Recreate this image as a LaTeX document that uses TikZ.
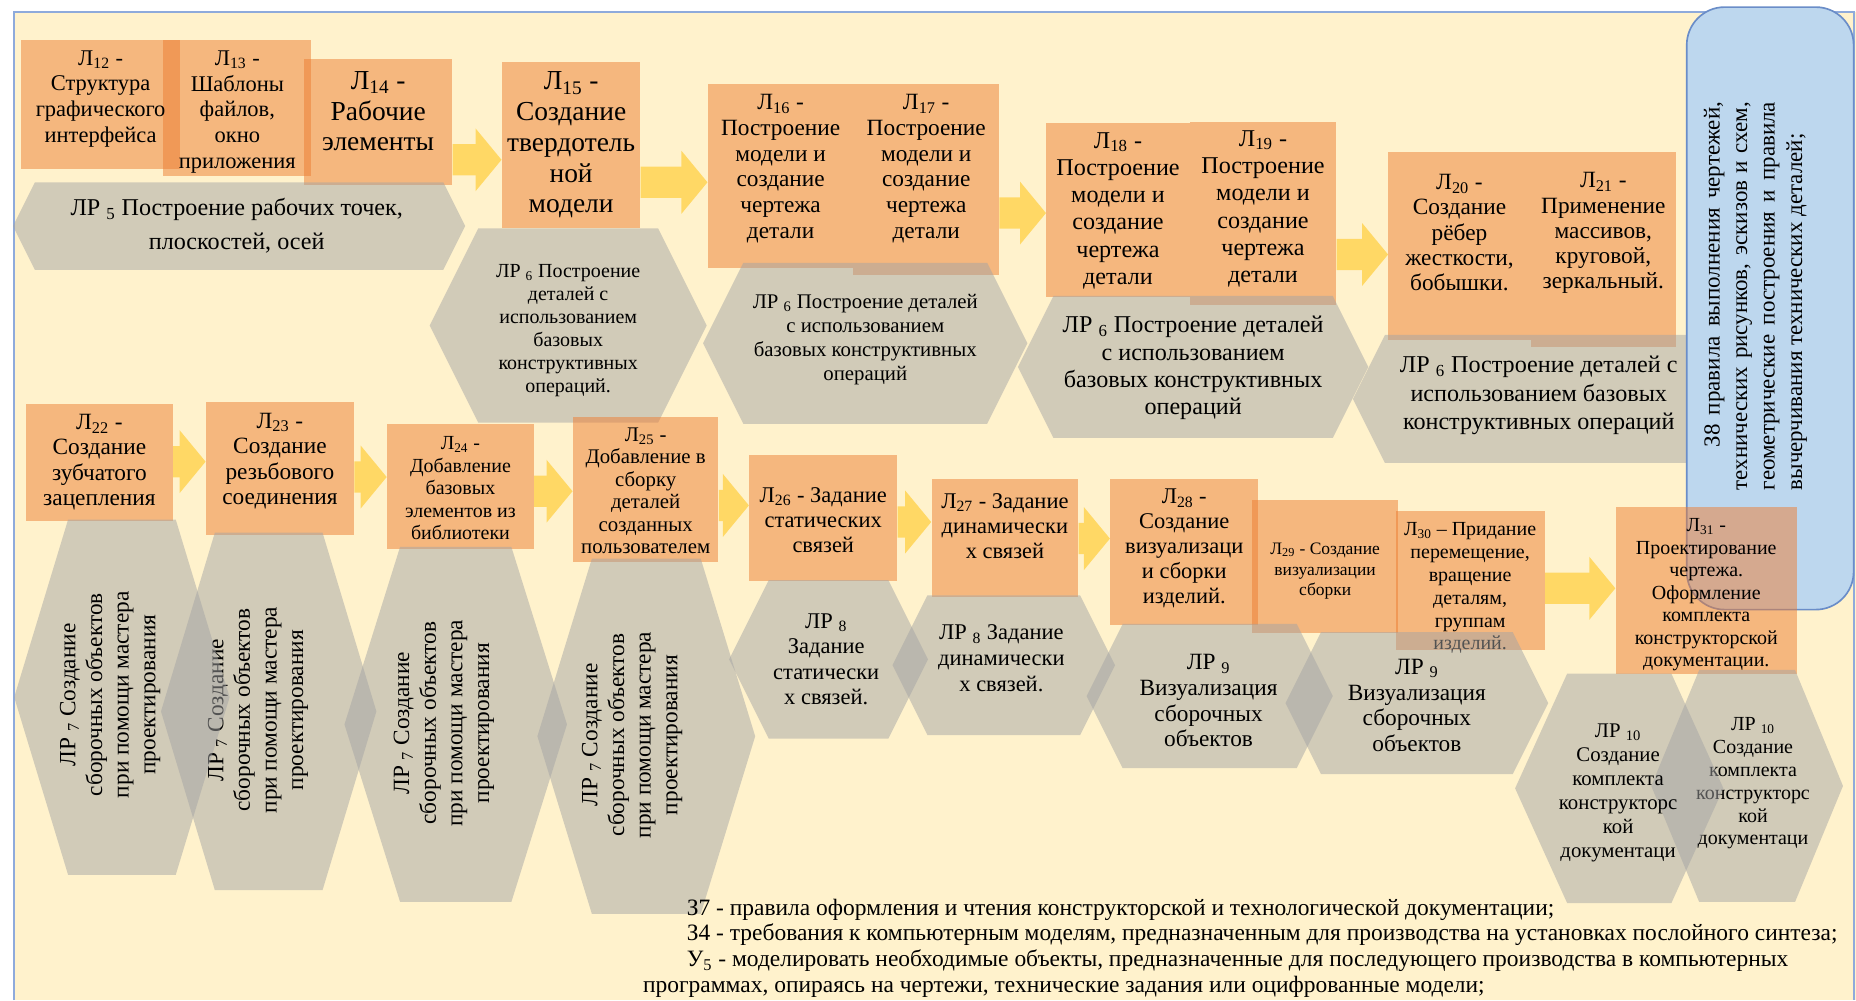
\documentclass[tikz,border=0pt]{standalone}
\usepackage{fontspec}
\setmainfont{Liberation Serif}
\setsansfont{Liberation Sans}
\usetikzlibrary{arrows.meta,fit,calc}

\definecolor{cream}{HTML}{FFF2CC}
\definecolor{orng}{HTML}{ED7D31}
\definecolor{hexgray}{HTML}{A5A5A5}
\definecolor{yel}{HTML}{FFC000}
\definecolor{paleblue}{HTML}{BDD7EE}
\definecolor{edgeblue}{HTML}{6A8DC8}
\definecolor{frameblue}{HTML}{8EAADB}

\newcommand\fsz[2]{\fontsize{#1}{#2}\selectfont}
\newcommand\lec[1]{Л\textsubscript{#1}}
\newcommand\lab[1]{ЛР \textsubscript{#1}}
% hexagon: centre x, centre y, half width, half height
\newcommand\hexa[4]{%
  \pgfmathsetmacro\hexin{0.5*min(#3,#4)}%
  \fill[hexfill] (#1-#3,#2) -- (#1-#3+\hexin,#2-#4) -- (#1+#3-\hexin,#2-#4)
    -- (#1+#3,#2) -- (#1+#3-\hexin,#2+#4) -- (#1-#3+\hexin,#2+#4) -- cycle;}

\begin{document}
\begin{tikzpicture}[x=0.25mm, y=-0.25mm,
  lecbox/.style={rectangle, fill=orng, fill opacity=0.5, inner sep=0pt},
  boxtext/.style={align=center, inner sep=0pt},
  hexfill/.style={fill=hexgray, fill opacity=0.5},
  hexlabel/.style={align=center, inner sep=0pt},
  vlabel/.style={hexlabel, rotate=90, font={\fsz{14}{16}}},
  bluebox/.style={rectangle, rounded corners=8mm, fill=paleblue, draw=edgeblue, line width=0.35mm, inner sep=0pt},
  flow/.style={draw=yel, line width=6.6mm, -{Triangle[length=5.5mm, width=13mm]}}]
  \useasboundingbox (0,0) rectangle (1568,845);
  \fill[cream] (12,10) rectangle (1568,845);
  \draw[frameblue, line width=0.4mm] (12,845) -- (12,10) -- (1566,10) -- (1566,845);

  % first row
  \node[lecbox, fit={(18,34) (152,143)}] (l12) {};
  \node[lecbox, fit={(138,34) (263,149)}] (l13) {};
  \node[lecbox, fit={(257,50) (382,156)}] (l14) {};
  \node[lecbox, fit={(424,52) (541,193)}] (l15) {};
  \node[lecbox, fit={(598,71) (721,226)}] (l16) {};
  \node[lecbox, fit={(721,71) (844,232)}] (l17) {};
  \node[lecbox, fit={(884,104) (1005,251)}] (l18) {};
  \node[lecbox, fit={(1005,103) (1129,258)}] (l19) {};
  \node[lecbox, fit={(1173,128) (1293,287)}] (l20) {};
  \node[lecbox, fit={(1293,128) (1416,293)}] (l21) {};
  \node[boxtext, font={\fsz{13.5}{15.5}}] (l12t) at ($(l12)+(0,-5)$) {\lec{12} -\\Структура\\графического\\интерфейса};
  \node[boxtext, font={\fsz{13.5}{15.5}}] (l13t) at ($(l13)+(0,3)$) {\lec{13} -\\Шаблоны\\файлов,\\окно\\приложения};
  \node[boxtext, font={\fsz{16.5}{18.5}}] (l14t) at ($(l14)+(0,-9)$) {\lec{14} -\\Рабочие\\элементы};
  \node[boxtext, font={\fsz{16.5}{18.5}}] (l15t) at ($(l15)+(0,0)$) {\lec{15} -\\Создание\\твердотель\\ной\\модели};
  \node[boxtext, font={\fsz{14}{15.4}}] (l16t) at ($(l16)+(0,-6)$) {\lec{16} -\\Построение\\модели и\\создание\\чертежа\\детали};
  \node[boxtext, font={\fsz{14}{15.4}}] (l17t) at ($(l17)+(0,-9)$) {\lec{17} -\\Построение\\модели и\\создание\\чертежа\\детали};
  \node[boxtext, font={\fsz{14.5}{16.4}}] (l18t) at ($(l18)+(0,0.5)$) {\lec{18} -\\Построение\\модели и\\создание\\чертежа\\детали};
  \node[boxtext, font={\fsz{14.5}{16.4}}] (l19t) at ($(l19)+(0,-4)$) {\lec{19} -\\Построение\\модели и\\создание\\чертежа\\детали};
  \node[boxtext, font={\fsz{14}{15.2}}] (l20t) at ($(l20)+(0,-11)$) {\lec{20} -\\Создание\\рёбер\\жесткости,\\бобышки.};
  \node[boxtext, font={\fsz{14}{15.2}}] (l21t) at ($(l21)+(0,-13.5)$) {\lec{21} -\\Применение\\массивов,\\круговой,\\зеркальный.};

  \hexa{202}{191}{191}{37}
  \node[hexlabel, font={\fsz{14.5}{20.5}}] (lr5) at (200,191) {\lab{5} Построение рабочих точек,\\плоскостей, осей};
  \hexa{480}{275}{117}{82}
  \node[hexlabel, font={\fsz{12}{13.8}}] (lr6a) at (480,279) {\lab{6} Построение\\деталей с\\использованием\\базовых\\конструктивных\\операций.};
  \hexa{731}{290}{137}{68}
  \node[hexlabel, font={\fsz{12.5}{14.4}}] (lr6b) at (731,287) {\lab{6} Построение деталей\\с использованием\\базовых конструктивных\\операций};
  \hexa{1008}{310}{148}{60}
  \node[hexlabel, font={\fsz{14.5}{16.4}}] (lr6c) at (1008,311) {\lab{6} Построение деталей\\с использованием\\базовых конструктивных\\операций};
  \hexa{1300}{337}{157}{54}
  \node[hexlabel, font={\fsz{14.5}{17}}] (lr6d) at (1300,334) {\lab{6} Построение деталей с\\использованием базовых\\конструктивных операций};

  \node[bluebox, fit={(1425,6) (1566,515)}] (z8) {};
  \node[rotate=90, align=justify, text width=82mm, inner sep=0pt, font={\fsz{13.8}{16.5}}] (z8txt) at (1483,250)
    {\hspace*{9mm}З8 правила выполнения чертежей,\linebreak технических рисунков, эскизов и схем,\linebreak геометрические построения и правила\linebreak вычерчивания технических деталей;};

  % second row
  \node[lecbox, fit={(22,341) (146,440)}] (l22) {};
  \node[lecbox, fit={(174,340) (299,452)}] (l23) {};
  \node[lecbox, fit={(327,358) (451,464)}] (l24) {};
  \node[lecbox, fit={(484,352) (607,475)}] (l25) {};
  \node[lecbox, fit={(633,384) (758,491)}] (l26) {};
  \node[lecbox, fit={(787,405) (911,504)}] (l27) {};
  \node[lecbox, fit={(938,405) (1063,528)}] (l28) {};
  \node[lecbox, fit={(1058,422) (1181,535)}] (l29) {};
  \node[lecbox, fit={(1179,432) (1305,549)}] (l30) {};
  \node[lecbox, fit={(1365,428) (1518,569)}] (l31) {};
  \node[boxtext, font={\fsz{14}{15.3}}] (l22t) at ($(l22)+(0,0)$) {\lec{22} -\\Создание\\зубчатого\\зацепления};
  \node[boxtext, font={\fsz{14}{15.3}}] (l23t) at ($(l23)+(0,-6.5)$) {\lec{23} -\\Создание\\резьбового\\соединения};
  \node[boxtext, font={\fsz{12}{13.5}}] (l24t) at ($(l24)+(0,1.5)$) {\lec{24} -\\Добавление\\базовых\\элементов из\\библиотеки};
  \node[boxtext, font={\fsz{12.5}{13.5}}] (l25t) at ($(l25)+(0,1)$) {\lec{25} -\\Добавление в\\сборку\\деталей\\созданных\\пользователем};
  \node[boxtext, font={\fsz{13.5}{15.2}}] (l26t) at ($(l26)+(0,2)$) {\lec{26} - Задание\\статических\\связей};
  \node[boxtext, font={\fsz{13.5}{15.2}}] (l27t) at ($(l27)+(0,-10)$) {\lec{27} - Задание\\динамически\\х связей};
  \node[boxtext, font={\fsz{13.5}{15}}] (l28t) at ($(l28)+(0,-3)$) {\lec{28} -\\Создание\\визуализаци\\и сборки\\изделий.};
  \node[boxtext, font={\fsz{10.5}{12.5}}] (l29t) at ($(l29)+(0,4)$) {\lec{29} - Создание\\визуализации\\сборки};
  \node[boxtext, font={\fsz{12}{13.7}}] (l30t) at ($(l30)+(0,6.5)$) {\lec{30} – Придание\\перемещение,\\вращение\\деталям,\\группам\\изделий.};
  \node[boxtext, font={\fsz{12}{13.5}}] (l31t) at ($(l31)+(0,4)$) {\lec{31} -\\Проектирование\\чертежа.\\Оформление\\комплекта\\конструкторской\\документации.};

  \hexa{1476}{664}{81}{98}
  \node[hexlabel, font={\fsz{12}{13.7}}] (lr10b) at (1481,662) {\lab{10}\\Создание\\комплекта\\конструкторс\\кой\\документаци};
  \hexa{1368}{666}{88}{97}
  \node[hexlabel, font={\fsz{12.5}{14.5}}] (lr10a) at (1367,670) {\lab{10}\\Создание\\комплекта\\конструкторс\\кой\\документаци};
  \hexa{1197}{594}{111}{60}
  \node[hexlabel, font={\fsz{14}{15.5}}] (lr9b) at (1197,596) {\lab{9}\\Визуализация\\сборочных\\объектов};
  \hexa{1022}{588}{104}{61}
  \node[hexlabel, font={\fsz{14}{15.5}}] (lr9a) at (1021,592) {\lab{9}\\Визуализация\\сборочных\\объектов};
  \hexa{848}{562}{94}{59}
  \node[hexlabel, font={\fsz{13.5}{15.4}}] (lr8b) at (846,556) {\lab{8} Задание\\динамически\\х связей.};
  \hexa{700}{557}{84}{67}
  \node[hexlabel, font={\fsz{13.5}{15.4}}] (lr8a) at (698,557) {\lab{8}\\Задание\\статически\\х связей.};
  \hexa{546}{622}{92}{150}
  \node[vlabel] (lr7d) at (534,621) {\lab{7} Создание\\сборочных объектов\\при помощи мастера\\проектирования};
  \hexa{385}{612}{94}{150}
  \node[vlabel] (lr7c) at (375,611) {\lab{7} Создание\\сборочных объектов\\при помощи мастера\\проектирования};
  \hexa{227}{601}{91}{151}
  \node[vlabel] (lr7b) at (218,600) {\lab{7} Создание\\сборочных объектов\\при помощи мастера\\проектирования};
  \hexa{103}{589}{91}{150}
  \node[vlabel] (lr7a) at (93,587) {\lab{7} Создание\\сборочных объектов\\при помощи мастера\\проектирования};

  \begin{scope}[transparency group, opacity=0.5]
    \draw[flow] (l14.east |- 0,135) -- (l15.west |- 0,135);
    \draw[flow] (l15.east |- 0,154) -- (l16.west |- 0,154);
    \draw[flow] (l17.east |- 0,180) -- (l18.west |- 0,180);
    \draw[flow] (l19.east |- 0,215) -- (l20.west |- 0,215);
    \draw[flow] (l22.east |- 0,390) -- (l23.west |- 0,390);
    \draw[flow] (l23.east |- 0,403) -- (l24.west |- 0,403);
    \draw[flow] (l24.east |- 0,415) -- (l25.west |- 0,415);
    \draw[flow] (l25.east |- 0,427) -- (l26.west |- 0,427);
    \draw[flow] (l26.east |- 0,441) -- (l27.west |- 0,441);
    \draw[flow] (l27.east |- 0,455) -- (l28.west |- 0,455);
    \draw[flow] (l30.east |- 0,497) -- (l31.west |- 0,497);
  \end{scope}

  \node[anchor=north west, align=left, inner sep=0pt, font={\fsz{14.1}{15.6}}] (outcomes) at (543,759)
    {\hspace*{9.25mm}З7 - правила оформления и чтения конструкторской и технологической документации;\\
     \hspace*{9.25mm}З4 - требования к компьютерным моделям, предназначенным для производства на установках послойного синтеза;\\
     \hspace*{9.25mm}У\textsubscript{5} - моделировать необходимые объекты, предназначенные для последующего производства в компьютерных\\
     программах, опираясь на чертежи, технические задания или оцифрованные модели;};
\end{tikzpicture}
\end{document}
